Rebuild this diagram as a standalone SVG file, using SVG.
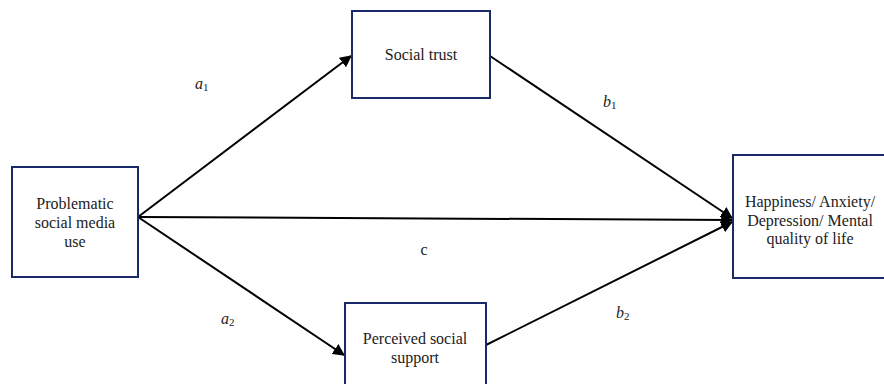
<svg xmlns="http://www.w3.org/2000/svg" width="884" height="384" viewBox="0 0 884 384">
<style>
.box{fill:#fff;stroke:#1a2a66;stroke-width:2}
text{font-family:"Liberation Serif","DejaVu Serif",serif;fill:#222}
.t{font-size:16px;text-anchor:middle}
.lbl{font-size:16px;font-style:italic}
.sub{font-size:11px;font-style:normal}
.ln{stroke:#000;stroke-width:2;fill:none;marker-end:url(#ah)}
</style>
<defs>
<marker id="ah" viewBox="0 0 10 10" refX="9" refY="5" markerWidth="6" markerHeight="6" orient="auto" markerUnits="strokeWidth">
<path d="M0,0 L10,5 L0,10 z" fill="#000"/>
</marker>
</defs>
<rect width="884" height="384" fill="#fff"/>
<g id="connectors">
<line class="ln" x1="138" y1="217" x2="351" y2="56"/>
<line class="ln" x1="138" y1="217" x2="344" y2="355"/>
<line class="ln" x1="138" y1="217" x2="732" y2="220"/>
<line class="ln" x1="490" y1="56" x2="732" y2="218"/>
<line class="ln" x1="486" y1="345" x2="732" y2="222"/>
</g>
<g id="n_psmu">
<rect class="box" x="12" y="167" width="126" height="110"/>
<text class="t" x="75" y="209" font-family="Liberation Serif, serif">Problematic</text>
<text class="t" x="75" y="228">social media</text>
<text class="t" x="75" y="247">use</text>
</g>
<g id="n_trust">
<rect class="box" x="352" y="11" width="138" height="87"/>
<text class="t" x="421" y="60">Social trust</text>
</g>
<g id="n_support">
<rect class="box" x="345" y="303" width="141" height="90"/>
<text class="t" x="415" y="344">Perceived social</text>
<text class="t" x="415" y="363">support</text>
</g>
<g id="n_outcome">
<rect class="box" x="733" y="155" width="160" height="123"/>
<text class="t" x="810" y="207">Happiness/ Anxiety/</text>
<text class="t" x="810" y="226">Depression/ Mental</text>
<text class="t" x="810" y="244">quality of life</text>
</g>
<g id="labels">
<text class="lbl" x="195" y="89">a<tspan class="sub" dy="2">1</tspan></text>
<text class="lbl" x="603" y="107">b<tspan class="sub" dy="2">1</tspan></text>
<text class="lbl" x="221" y="324">a<tspan class="sub" dy="2">2</tspan></text>
<text class="lbl" x="616" y="318">b<tspan class="sub" dy="2">2</tspan></text>
<text class="t" x="424" y="255">c</text>
</g>
</svg>
